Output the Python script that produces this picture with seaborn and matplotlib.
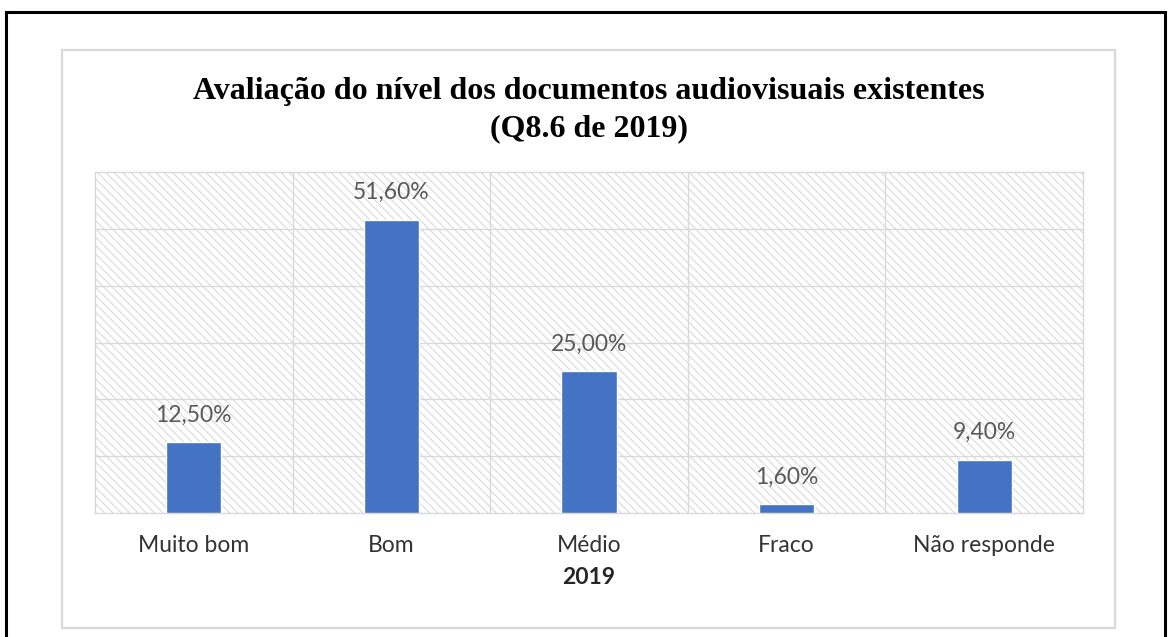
import matplotlib
matplotlib.use("Agg")
import matplotlib.pyplot as plt
from matplotlib.patches import Rectangle
import seaborn as sns
import pandas as pd

categories = ["Muito bom", "Bom", "Médio", "Fraco", "Não responde"]
values = [12.5, 51.6, 25.0, 1.6, 9.4]
labels = ["12,50%", "51,60%", "25,00%", "1,60%", "9,40%"]
title = "Avaliação do nível dos documentos audiovisuais existentes\n(Q8.6 de 2019)"
xlabel = "2019"

sns.set_theme(style="white")
plt.rcParams["font.family"] = ["Lato", "DejaVu Sans"]
plt.rcParams["hatch.linewidth"] = 0.8

W, H = 1171, 637
fig = plt.figure(figsize=(W / 100, H / 100), dpi=100)
fig.patch.set_facecolor("white")

# outer black border
fig.add_artist(Rectangle((6 / W, -0.05), (1165 - 6) / W, (H - 12) / H + 0.05,
                         transform=fig.transFigure, fill=False, edgecolor="black", lw=2.2))
# chart area border
fig.add_artist(Rectangle((62 / W, (H - 628) / H), (1115 - 62) / W, (628 - 50) / H,
                         transform=fig.transFigure, fill=False, edgecolor="#d9d9d9", lw=1.6))

left, right, top, bottom = 95, 1083, 172, 513
ax = fig.add_axes([left / W, (H - bottom) / H, (right - left) / W, (bottom - top) / H])

ax.add_patch(Rectangle((0, 0), 1, 1, transform=ax.transAxes, facecolor="white",
                       edgecolor="#dadada", hatch="\\\\\\\\", lw=0, zorder=0))

df = pd.DataFrame({"cat": categories, "val": values})
sns.barplot(data=df, x="cat", y="val", color="#4472C4", width=0.28, ax=ax,
            saturation=1, zorder=3)

ax.set_xlim(-0.5, len(categories) - 0.5)
ax.set_ylim(0, 60)
for y in range(10, 60, 10):
    ax.axhline(y, color="#d9d9d9", lw=1.0, zorder=1)
for i in range(1, len(categories)):
    ax.axvline(i - 0.5, color="#d9d9d9", lw=1.0, zorder=1)
for s in ax.spines.values():
    s.set_color("#d9d9d9")
    s.set_linewidth(1.0)
    s.set_visible(True)

ax.set_yticks([])
ax.set_ylabel("")
ax.tick_params(axis="x", length=0, pad=16, labelsize=16.5, labelcolor="#333333")
ax.set_xlabel(xlabel, fontsize=16.5, fontweight="bold", color="#262626", labelpad=8)

for i, (v, lab) in enumerate(zip(values, labels)):
    ax.annotate(lab, (i, v), xytext=(0, 27), textcoords="offset pixels",
                ha="center", va="center", fontsize=16.5, color="#595959")

fig.text(589 / W, 1 - 110 / H, title, ha="center", va="center",
         fontsize=23, fontweight="bold", family="Liberation Serif",
         linespacing=1.36, color="black")

fig.savefig("out.png", dpi=100)
